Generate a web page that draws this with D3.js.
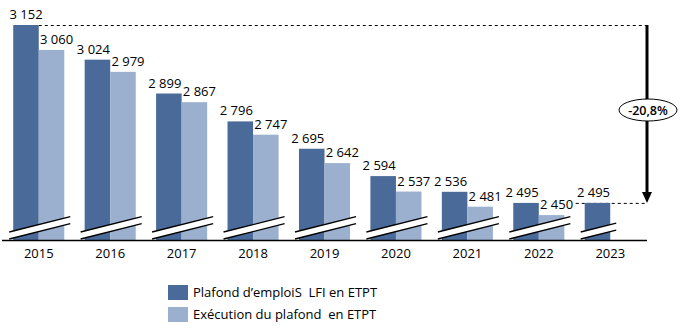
<!DOCTYPE html>
<html><head><meta charset="utf-8">
<script src="https://cdn.jsdelivr.net/npm/d3@7"></script>
<style>body{margin:0;background:#fff}svg{display:block}text{font-family:"Open Sans",sans-serif}</style>
</head><body><svg id="c" width="683" height="328"></svg>
<script>
const years = ["2015","2016","2017","2018","2019","2020","2021","2022","2023"];
const plafond = [3152,3024,2899,2796,2695,2594,2536,2495,2495];
const execution = [3060,2979,2867,2747,2642,2537,2481,2450,null];
const seriesNames = ["Plafond d\u2019emploiS  LFI en ETPT","Exécution du plafond  en ETPT"];
const colors = ["#4a6a99","#9bb0cf"];
const variationLabel = "-20,8%";
const fmt = v => d3.format(",")(v).replace(/,/g," ");

const svg = d3.select("#c");
const baseY = 240;
const x = d3.scaleBand().domain(years).range([3,646]).paddingInner(0.285).paddingOuter(0.143);
const xs = d3.scaleBand().domain([0,1]).range([0,x.bandwidth()]);
const y = d3.scaleLinear().domain([2358,3152]).range([baseY,25]);

const data = years.map((yr,i)=>({yr, vals:[plafond[i],execution[i]]}));

// dashed reference lines
const arrowX = 647;
svg.append("line").attr("x1",x(years[0])+xs.bandwidth()).attr("x2",arrowX)
  .attr("y1",y(plafond[0])+0.5).attr("y2",y(plafond[0])+0.5)
  .attr("stroke","#000").attr("stroke-dasharray","3,3").attr("stroke-width",1);
svg.append("line").attr("x1",x(years[8])-9).attr("x2",arrowX)
  .attr("y1",y(plafond[8])+0.5).attr("y2",y(plafond[8])+0.5)
  .attr("stroke","#000").attr("stroke-dasharray","3,3").attr("stroke-width",1);

const g = svg.selectAll("g.grp").data(data).join("g").attr("class","grp")
  .attr("transform",d=>`translate(${x(d.yr)},0)`);

g.selectAll("rect").data(d=>d.vals.map((v,k)=>({v,k})).filter(e=>e.v!=null)).join("rect")
  .attr("x",e=>xs(e.k)).attr("width",xs.bandwidth())
  .attr("y",e=>y(e.v)).attr("height",e=>baseY-y(e.v)).attr("fill",e=>colors[e.k]);

g.selectAll("text.val").data(d=>d.vals.map((v,k)=>({v,k,yr:d.yr})).filter(e=>e.v!=null)).join("text")
  .attr("class","val")
  .attr("x",e=>{
    const c = xs(e.k)+xs.bandwidth()/2+(e.k?5:-4);
    return Math.max(c, 26 - x(e.yr));
  })
  .attr("y",e=>y(e.v)-6).attr("text-anchor","middle").attr("font-size",13).attr("fill","#000")
  .text(e=>fmt(e.v));

// break marks
g.each(function(d){
  const n = d.vals.filter(v=>v!=null).length;
  const xa = -4, xb = xs(n-1)+xs.bandwidth()+6;
  const slope = 0.25, gap = 7;
  const yA = baseY-1, yB = baseY-1-slope*(xb-xa);
  const gg = d3.select(this);
  gg.append("path").attr("d",`M${xa},${yA}L${xb},${yB}L${xb},${yB-gap}L${xa},${yA-gap}Z`).attr("fill","#fff");
  gg.append("line").attr("x1",xa).attr("y1",yA).attr("x2",xb).attr("y2",yB).attr("stroke","#000").attr("stroke-width",1.3);
  gg.append("line").attr("x1",xa).attr("y1",yA-gap).attr("x2",xb).attr("y2",yB-gap).attr("stroke","#000").attr("stroke-width",1.3);
});

// axis
const ax = svg.append("g").attr("transform",`translate(0,${baseY+0.5})`)
  .call(d3.axisBottom(x).tickSize(0).tickPadding(8));
ax.select(".domain").attr("stroke","#000").attr("stroke-width",1.3).attr("d",`M2,0H${arrowX}`);
ax.selectAll("text").attr("font-size",13).attr("fill","#000").attr("font-family","'Open Sans',sans-serif");

// arrow
const ay1 = y(plafond[0]), ay2 = y(plafond[8]);
svg.append("line").attr("x1",arrowX).attr("x2",arrowX).attr("y1",ay1).attr("y2",ay2-9)
  .attr("stroke","#000").attr("stroke-width",3);
svg.append("path").attr("d",`M${arrowX-5},${ay2-11}L${arrowX+5},${ay2-11}L${arrowX},${ay2}Z`).attr("fill","#000");
const ey = 110;
svg.append("ellipse").attr("cx",arrowX+1).attr("cy",ey).attr("rx",29).attr("ry",11)
  .attr("fill","#fff").attr("stroke","#000").attr("stroke-width",1);
svg.append("text").attr("x",arrowX+1).attr("y",ey+4.5).attr("text-anchor","middle")
  .attr("font-size",12.5).attr("font-weight",600).text(variationLabel);

// legend
const lg = svg.append("g").attr("transform","translate(168,285)");
seriesNames.forEach((s,i)=>{
  lg.append("rect").attr("x",0).attr("y",i*22).attr("width",20).attr("height",15).attr("fill",colors[i]);
  lg.append("text").attr("x",25).attr("y",i*22+12).attr("font-size",13).attr("fill","#000")
    .attr("font-family","Lato,sans-serif")
    .attr("xml:space","preserve").style("white-space","pre").text(s);
});
</script></body></html>
